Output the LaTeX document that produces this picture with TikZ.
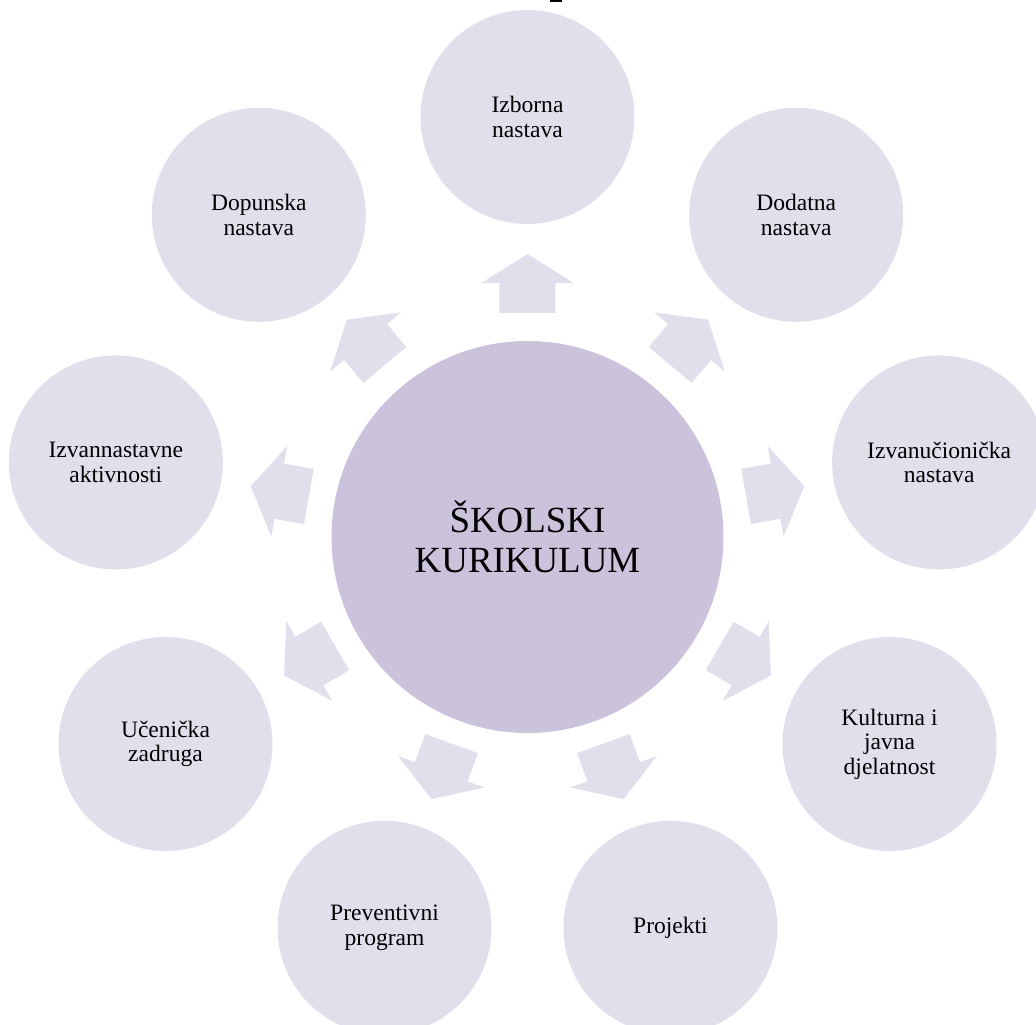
\documentclass[tikz,border=0pt]{standalone}
\usepackage{fontspec}
\setmainfont{Liberation Serif}
\definecolor{kurmid}{HTML}{CBC2DB}
\definecolor{kurout}{HTML}{E3DEEC}

\begin{document}
\begin{tikzpicture}[
    krug/.style={circle, fill=kurout, minimum size=4.28cm, inner sep=0pt, align=center, font=\fontsize{13.4}{14}\selectfont},
    sredina/.style={circle, fill=kurmid, minimum size=7.84cm, inner sep=0pt, align=center, font=\fontsize{21}{22.8}\selectfont},
    strelica/.style={fill=kurout}
]
    \useasboundingbox (-10.55,-9.8) rectangle (10.17,10.7);
    \clip (-10.55,-9.8) rectangle (10.17,10.7);
    \fill (0.45,10.66) rectangle (0.69,10.72);
    \node[sredina] (sk) at (0,-0.04) {ŠKOLSKI\\KURIKULUM};
    \node[krug] (izb) at (90:8.36) {Izborna\\nastava};
    \node[krug] (dod) at (50:8.36) {Dodatna\\nastava};
    \node[krug] (izu) at (10:8.36) {Izvanučionička\\nastava};
    \node[krug] (kul) at (-30:8.36) {Kulturna i\\javna\\djelatnost};
    \node[krug] (pro) at (-70:8.36) {Projekti};
    \node[krug] (pre) at (-110:8.36) {Preventivni\\program};
    \node[krug] (uce) at (-150:8.36) {Učenička\\zadruga};
    \node[krug] (izv) at (170:8.36) {Izvannastavne\\aktivnosti};
    \node[krug] (dop) at (130:8.36) {Dopunska\\nastava};
    \foreach \kut in {90,50,10,-30,-70,-110,-150,170,130}
        \fill[strelica, rotate=\kut] (4.44,-0.56) -- (5.04,-0.56) -- (5.04,-0.92) -- (5.62,0) -- (5.04,0.92) -- (5.04,0.56) -- (4.44,0.56) -- cycle;
\end{tikzpicture}
\end{document}
